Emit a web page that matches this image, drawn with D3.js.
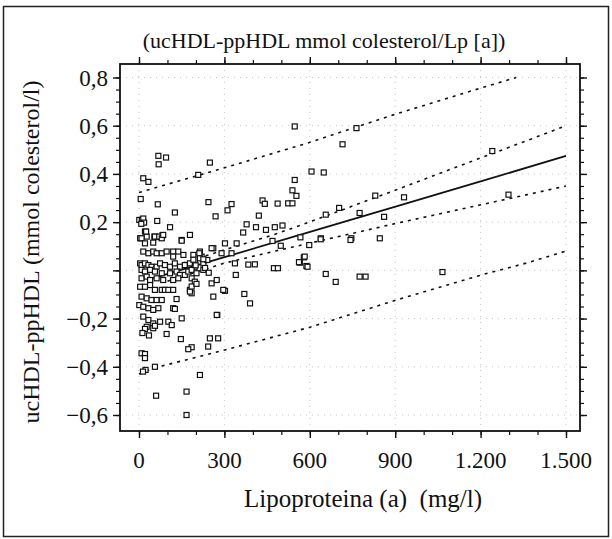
<html>
<head>
<meta charset="utf-8">
<script src="https://d3js.org/d3.v7.min.js"></script>
<style>
body { margin: 0; background: #fff; }
text { font-family: "Liberation Serif", "Times New Roman", serif; fill: #111; }
</style>
</head>
<body>
<svg id="chart" width="612" height="539"></svg>
<script>

// tick labels
var xTicks = [0, 300, 600, 900, 1200, 1500]
var xTickLabels = ["0", "300", "600", "900", "1.200", "1.500"]
var yTicks = [0.8, 0.6, 0.4, 0.2, 0, -0.2, -0.4, -0.6]
var yTickLabels = ["0,8", "0,6", "0,4", "0,2", "", "\u22120,2", "\u22120,4", "\u22120,6"]

// Lp(a) mg/l, ucHDL-ppHDL mmol/l
var points = [
 [547,0.597],[68,0.475],[95,0.468],[69,0.44],[249,0.447],[208,0.396],[15,0.382],[33,0.367],
 [6,0.296],[66,0.274],[244,0.283],[126,0.24],[269,0.224],[311,0.249],[325,0.275],[547,0.375],
 [539,0.332],[553,0.309],[434,0.29],[442,0.276],[487,0.277],[524,0.278],[539,0.278],[421,0.227],
 [1,0.209],[10,0.21],[15,0.215],[18,0.198],[8,0.193],[64,0.205],[109,0.179],[21,0.161],
 [378,0.191],[411,0.179],[446,0.168],[477,0.179],[504,0.186],[366,0.157],[27,0.14],[54,0.14],
 [70,0.138],[82,0.145],[179,0.147],[150,0.126],[4,0.133],
 [764,0.59],[715,0.523],[606,0.41],[649,0.406],[1241,0.495],[830,0.31],[931,0.303],[703,0.259],
 [656,0.231],[775,0.238],[861,0.222],[1298,0.314],[639,0.133],[746,0.133],[846,0.133],[567,0.137],
 [638,0.129],[743,0.126],[598,0.105],[579,0.054],[565,0.032],[588,0.018],[656,-0.015],[691,-0.048],
 [775,-0.026],[796,-0.026],[1066,-0.007],
 [261,0.092],[302,0.112],[343,0.112],[325,0.071],[337,0.029],[340,-0.019],[407,0.025],[384,0.024],
 [469,0.122],[498,0.102],[474,0.009],[488,0.009],[562,0.034],[582,0.057],[592,0.015],[370,-0.098],
 [390,-0.137],[302,-0.085],[261,-0.109],[275,-0.185],[249,-0.282],[278,-0.282],[243,-0.316],[185,-0.319],
 [173,-0.327],[214,-0.434],[147,-0.285],[97,-0.264],[167,-0.503],[167,-0.6],[60,-0.52],[9,-0.344],
 [21,-0.347],[21,-0.364],[23,-0.413],[14,-0.42],[56,-0.4],
 [25,0.161],[9,0.133],[21,0.112],[56,0.14],[50,0.115],[71,0.14],[80,0.133],[85,0.147],[150,0.123],
 [15,0.078],[33,0.071],[50,0.078],[62,0.071],[80,0.071],[97,0.078],[120,0.078],[138,0.078],[156,0.064],
 [120,0.057],[191,0.064],[214,0.078],[220,0.057],[255,0.092],[290,0.071],
 [4,0.029],[9,0.022],[21,0.029],[33,0.022],[44,0.015],[62,0.015],[74,0.029],[91,0.022],[109,0.015],
 [126,0.029],[144,0.015],[161,0.022],[179,0.029],[196,0.015],[214,0.036],[226,0.029],[240,0.043],
 [9,0.002],[21,-0.005],[39,0.002],[56,-0.005],[80,-0.012],[109,-0.012],[132,-0.005],[144,-0.019],
 [161,-0.019],[173,-0.005],[185,0.002],[202,-0.012],[226,0.002],
 [9,-0.033],[27,-0.026],[39,-0.04],[62,-0.033],[85,-0.04],[120,-0.04],[138,-0.033],[185,-0.033],
 [196,-0.047],[255,-0.054],[273,-0.04],
 [4,-0.068],[21,-0.068],[39,-0.061],[56,-0.081],[80,-0.081],[91,-0.081],[103,-0.081],[120,-0.081],
 [179,-0.081],[185,-0.095],[296,-0.081],
 [9,-0.109],[27,-0.116],[44,-0.123],[62,-0.123],[80,-0.123],[132,-0.119],
 [1,-0.144],[15,-0.151],[33,-0.157],[50,-0.164],[68,-0.157],[120,-0.157],[150,-0.199],[273,-0.185],
 [15,-0.192],[33,-0.206],[50,-0.22],[74,-0.213],[103,-0.213],[115,-0.227],[27,-0.234],[50,-0.24],
 [21,-0.243],[56,-0.23],[35,-0.27],[12,-0.26],
 [212,0.071],[214,0.05],[226,0.046],[191,0.044],[199,0.021],[232,0.01],[245,-0.01],
 [179,-0.088],[185,-0.067],[202,-0.056],[126,-0.16]
]

// regression line and bands
var fitLine   = [[50,-0.032],[226,0.029],[565,0.147],[904,0.265],[1197,0.368],[1500,0.475]]
var confUpper = [[100,0.01],[300,0.085],[471,0.147],[565,0.186],[904,0.334],[1197,0.465],[1360,0.537],[1500,0.6]]
var confLower = [[100,-0.045],[300,0.03],[471,0.078],[571,0.105],[904,0.195],[1197,0.271],[1360,0.313],[1500,0.35]]
var predUpper = [[0,0.323],[296,0.424],[598,0.53],[893,0.645],[1197,0.755],[1325,0.8]]
var predLower = [[0,-0.43],[50,-0.406],[302,-0.33],[600,-0.236],[904,-0.123],[1203,-0.019],[1360,0.03],[1500,0.08]]

var svg = d3.select("#chart")
var frame = {left: 120, top: 64, right: 580, bottom: 431}

var x = d3.scaleLinear().domain([0, 1500]).range([139, 566])
var y = d3.scaleLinear().domain([-0.6, 0.8]).range([415, 77.5])

// outer border
svg.append("rect")
	.attr("x", 3.5).attr("y", 6.5).attr("width", 605).attr("height", 530)
	.attr("fill", "none").attr("stroke", "#222").attr("stroke-width", 1.5)

// faint grid
var grid = svg.append("g").attr("stroke", "#999").attr("stroke-width", 0.8)
	.attr("stroke-dasharray", "1,5").attr("opacity", 0.7)
grid.selectAll("line.gx").data(xTicks).enter().append("line")
	.attr("x1", d => x(d)).attr("x2", d => x(d))
	.attr("y1", frame.top).attr("y2", frame.bottom)
grid.selectAll("line.gy").data(yTicks).enter().append("line")
	.attr("y1", d => y(d)).attr("y2", d => y(d))
	.attr("x1", frame.left).attr("x2", frame.right)

var xMinor = d3.range(0, 1501, 100)
var yMinor = d3.range(-0.6, 0.801, 0.05)

function ticks(axis, scale, major, minor, transform) {
	var g = svg.append("g").attr("transform", transform)
	g.call(axis(scale).tickValues(minor).tickSize(4).tickFormat(""))
	var g2 = svg.append("g").attr("transform", transform)
	g2.call(axis(scale).tickValues(major).tickSize(7).tickFormat(""))
	g.select(".domain").remove()
	g2.select(".domain").remove()
	g.selectAll("line").attr("stroke", "#111").attr("stroke-width", 1.2)
	g2.selectAll("line").attr("stroke", "#111").attr("stroke-width", 1.4)
}
ticks(d3.axisBottom, x, xTicks, xMinor, `translate(0,${frame.bottom})`)
ticks(d3.axisTop, x, xTicks, xMinor, `translate(0,${frame.top})`)
ticks(d3.axisLeft, y, yTicks, yMinor, `translate(${frame.left},0)`)
ticks(d3.axisRight, y, yTicks, yMinor, `translate(${frame.right},0)`)

svg.append("rect")
	.attr("x", frame.left).attr("y", frame.top)
	.attr("width", frame.right - frame.left).attr("height", frame.bottom - frame.top)
	.attr("fill", "none").attr("stroke", "#111").attr("stroke-width", 1.8)

// tick labels
svg.selectAll("text.xt").data(xTicks).enter().append("text")
	.attr("x", d => x(d)).attr("y", 468)
	.attr("text-anchor", "middle").attr("font-size", 23)
	.text((d, i) => xTickLabels[i])
svg.selectAll("text.yt").data(yTicks).enter().append("text")
	.attr("x", 108).attr("y", d => y(d) + 8)
	.attr("text-anchor", "end").attr("font-size", 23)
	.text((d, i) => yTickLabels[i])

// titles
svg.append("text").attr("x", 324).attr("y", 48).attr("text-anchor", "middle")
	.attr("font-size", 22).text("(ucHDL-ppHDL mmol colesterol/Lp [a])")
svg.append("text").attr("x", 363).attr("y", 507).attr("text-anchor", "middle")
	.attr("font-size", 25).attr("xml:space", "preserve").text("Lipoproteina (a)  (mg/l)")
svg.append("text").attr("transform", "translate(39,252) rotate(-90)")
	.attr("text-anchor", "middle").attr("font-size", 24)
	.text("ucHDL-ppHDL (mmol colesterol/l)")

// lines
var line = d3.line().x(d => x(d[0])).y(d => y(d[1]))
svg.append("path").datum(fitLine).attr("d", line)
	.attr("fill", "none").attr("stroke", "#111").attr("stroke-width", 1.8)
;[confUpper, confLower, predUpper, predLower].forEach(function(s) {
	svg.append("path").datum(s).attr("d", line)
		.attr("fill", "none").attr("stroke", "#111").attr("stroke-width", 1.6)
		.attr("stroke-dasharray", "3,5")
})

// points
svg.append("g").selectAll("rect").data(points).enter().append("rect")
	.attr("x", d => x(d[0]) - 2.5).attr("y", d => y(d[1]) - 2.5)
	.attr("width", 5).attr("height", 5)
	.attr("fill", "#fff").attr("stroke", "#111").attr("stroke-width", 1.2)

</script>
</body>
</html>
